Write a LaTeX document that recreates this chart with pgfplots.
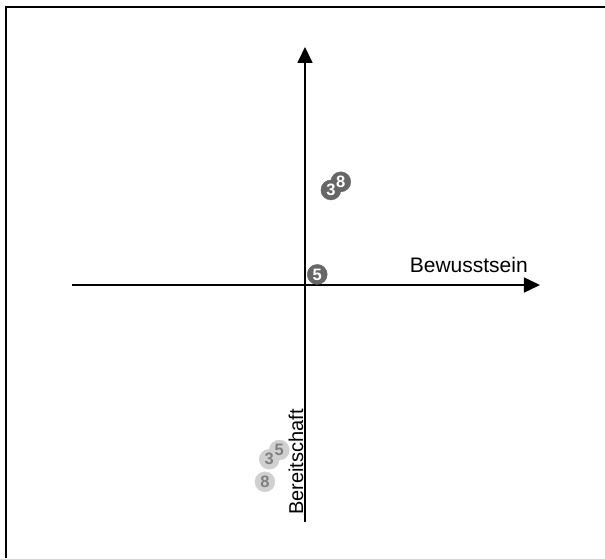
\documentclass[border=0pt]{standalone}
\usepackage{pgfplots}
\pgfplotsset{compat=1.18}
\usepackage{fontspec}
\setmainfont{Liberation Sans}
\usetikzlibrary{arrows.meta}
\definecolor{darkpt}{HTML}{666666}
\definecolor{lightpt}{HTML}{D0D0D0}
\definecolor{lighttxt}{HTML}{808080}
\pgfplotstableread{
x y label
-0.167 -0.820 8
-0.107 -0.6875 5
-0.149 -0.726 3
}\lightdata
\pgfplotstableread{
x y label
0.149 0.430 8
0.108 0.396 3
0.051 0.044 5
}\darkdata
\begin{document}
\begin{tikzpicture}
\begin{axis}[
  width=605pt, height=558pt, scale only axis,
  hide axis, clip=false,
  xmin=-1.27083, xmax=1.25, ymin=-1.1375, ymax=1.1875,
]
% frame (top and left edges)
\draw[line width=2.3pt, black] (axis cs:-1.245,-1.1375) -- (axis cs:-1.245,1.159) -- (axis cs:1.25,1.159);
% axes with arrows
\draw[line width=1.7pt, -{Triangle[length=16pt,width=15pt]}] (axis cs:-0.971,0) -- (axis cs:0.979,0);
\draw[line width=1.7pt, -{Triangle[length=16pt,width=15pt]}] (axis cs:0,-0.9875) -- (axis cs:0,0.9917);
\node[anchor=base east, inner sep=0pt, font=\fontsize{21}{24}\selectfont] at (axis cs:0.929,0.054) {Bewusstsein};
\node[anchor=base west, rotate=90, inner sep=0pt, font=\fontsize{20}{24}\selectfont] at (axis cs:-0.0083,-0.958) {Bereitschaft};
% light points
\addplot[color=lightpt, only marks, mark=*, mark size=10pt, mark options={draw=lightpt, fill=lightpt}] table {\lightdata};
\addplot[draw=none, mark=none, nodes near coords, point meta=explicit symbolic,
  every node near coord/.append style={anchor=center, inner sep=0pt, text=lighttxt, font=\fontsize{16.5}{16.5}\selectfont\bfseries}]
  table[meta=label] {\lightdata};
% dark points
\addplot[color=darkpt, only marks, mark=*, mark size=10pt, mark options={draw=darkpt, fill=darkpt}] table {\darkdata};
\addplot[draw=none, mark=none, nodes near coords, point meta=explicit symbolic,
  every node near coord/.append style={anchor=center, inner sep=0pt, text=white, font=\fontsize{16.5}{16.5}\selectfont\bfseries}]
  table[meta=label] {\darkdata};
\end{axis}
\pgfresetboundingbox
\useasboundingbox (0,0) rectangle (605pt,558pt);
\end{tikzpicture}
\end{document}
